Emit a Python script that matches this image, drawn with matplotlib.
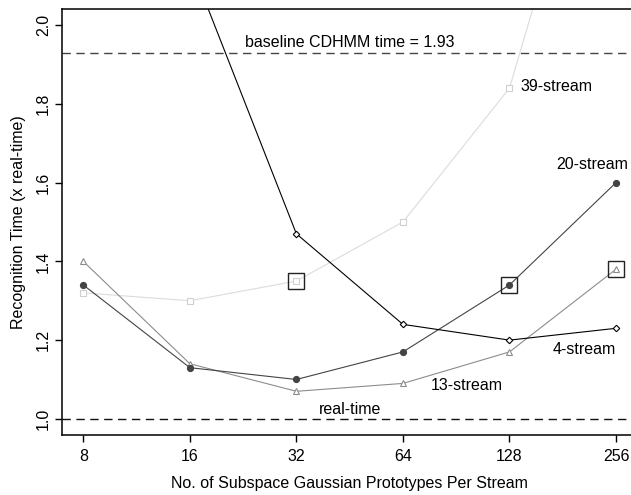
import matplotlib
matplotlib.use("Agg")
import matplotlib.pyplot as plt
import numpy as np

plt.rcParams['font.family'] = ['Liberation Sans', 'DejaVu Sans']

prototypes = [8, 16, 32, 64, 128, 256]
stream4 = [3.00, 2.16, 1.47, 1.24, 1.20, 1.23]
stream13 = [1.40, 1.14, 1.07, 1.09, 1.17, 1.38]
stream20 = [1.34, 1.13, 1.10, 1.17, 1.34, 1.60]
stream39 = [1.32, 1.30, 1.35, 1.50, 1.84, 2.76]
highlight_x = [32, 128, 256]
highlight_y = [1.35, 1.34, 1.38]
baseline = 1.93
realtime = 1.0

fig = plt.figure(figsize=(6.31, 4.95), dpi=100)
ax = fig.add_axes([62/631, 1 - 435/495, (631-62)/631 + 0.01, (435-9)/495])

x = np.log2(prototypes)

ax.axhline(baseline, color='#444444', lw=1.0, ls=(0, (6, 4)))
ax.axhline(realtime, color='#111111', lw=1.0, ls=(0, (6, 4)))

ax.plot(x, stream39, color='#dcdcdc', lw=0.8, marker='s', ms=4,
        mfc='white', mec='#d0d0d0', mew=0.8)
ax.plot(x, stream13, color='#8c8c8c', lw=0.8, marker='^', ms=4.5,
        mfc='white', mec='#8c8c8c', mew=0.8)
ax.plot(x, stream20, color='#444444', lw=0.8, marker='o', ms=4.2,
        mfc='#444444', mec='#444444')
ax.plot(x, stream4, color='#000000', lw=0.8, marker='D', ms=3.3,
        mfc='white', mec='#000000', mew=0.8)
ax.plot(np.log2(highlight_x), highlight_y, ls='none', marker='s', ms=12,
        mfc='none', mec='#222222', mew=1.0)

fs = 11.5
ax.text(5.50, 1.957, 'baseline CDHMM time = 1.93', ha='center', va='center', fontsize=fs)
ax.text(5.50, 1.023, 'real-time', ha='center', va='center', fontsize=fs)
ax.text(7.10, 1.843, '39-stream', ha='left', va='center', fontsize=fs)
ax.text(7.78, 1.645, '20-stream', ha='center', va='center', fontsize=fs)
ax.text(7.70, 1.175, '4-stream', ha='center', va='center', fontsize=fs)
ax.text(6.60, 1.085, '13-stream', ha='center', va='center', fontsize=fs)

ax.set_xlim(2.8, 8.2)
ax.set_ylim(0.959, 2.041)
ax.set_xticks(x)
ax.set_xticklabels([str(p) for p in prototypes], fontsize=fs)
ax.set_yticks([1.0, 1.2, 1.4, 1.6, 1.8, 2.0])
ax.set_yticklabels(['1.0', '1.2', '1.4', '1.6', '1.8', '2.0'], fontsize=fs,
                   rotation=90, va='center')
ax.tick_params(direction='out', length=5, width=1)
ax.tick_params(axis='x', pad=5)
ax.tick_params(axis='y', pad=3)
ax.spines['right'].set_visible(False)
for s in ['left', 'bottom', 'top']:
    ax.spines[s].set_linewidth(1.1)
ax.set_xlabel('No. of Subspace Gaussian Prototypes Per Stream', fontsize=fs, labelpad=9)
ax.set_ylabel('Recognition Time (x real-time)', fontsize=fs, labelpad=7)

fig.savefig('out.png', dpi=100)
